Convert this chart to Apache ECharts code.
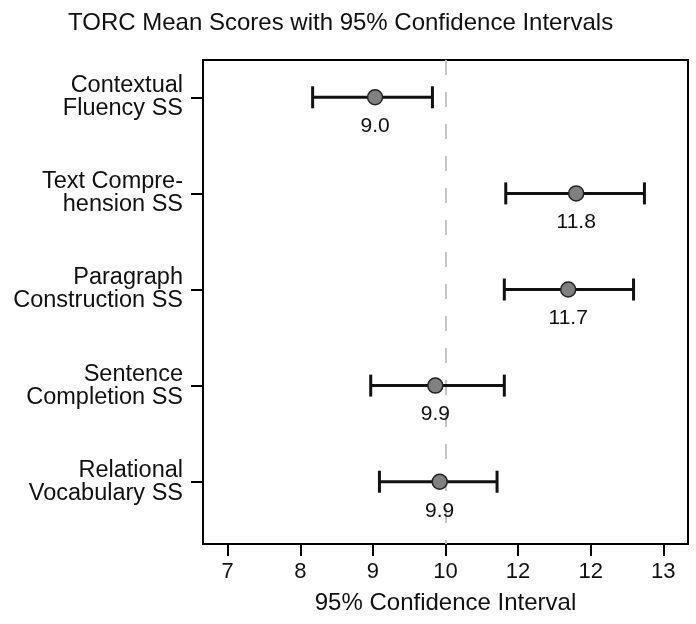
<!DOCTYPE html>
<html>
<head>
<meta charset="utf-8">
<script src="https://cdn.jsdelivr.net/npm/echarts@6/dist/echarts.min.js"></script>
<style>
html,body{margin:0;padding:0;background:#fff;}
#chart{width:696px;height:624px;}
</style>
</head>
<body>
<div id="chart"></div>
<script>
const titleText = "TORC Mean Scores with 95% Confidence Intervals";
const xAxisName = "95% Confidence Interval";
const categories = [
  "Contextual\nFluency SS",
  "Text Compre-\nhension SS",
  "Paragraph\nConstruction SS",
  "Sentence\nCompletion SS",
  "Relational\nVocabulary SS"
];
const means = [9.03, 11.80, 11.69, 9.86, 9.92];
const lower = [8.17, 10.83, 10.81, 8.97, 9.09];
const upper = [9.82, 12.74, 12.59, 10.81, 10.71];
const xTickValues = [7, 8, 9, 10, 11, 12, 13];
const xTickLabels = ["7", "8", "9", "10", "12", "12", "13"];
const refValue = 10;

const FONT = '"Liberation Sans", Arial, Helvetica, sans-serif';
const rowValues = categories.map((c, i) => i + 1);
const data = categories.map((c, i) => [i + 1, lower[i], means[i], upper[i]]);

const chart = echarts.init(document.getElementById('chart'), null, {renderer: 'canvas'});
chart.setOption({
  backgroundColor: '#fff',
  animation: false,
  title: {
    text: titleText,
    left: 63, top: 6,
    textStyle: {fontFamily: FONT, fontSize: 24, fontWeight: 'normal', color: '#111'}
  },
  grid: {
    left: 203, right: 8, top: 60, bottom: 80,
    show: true, borderColor: '#000', borderWidth: 2, backgroundColor: 'transparent'
  },
  xAxis: {
    type: 'value', min: 6.66, max: 13.34,
    name: xAxisName, nameLocation: 'middle', nameGap: 47,
    nameTextStyle: {fontFamily: FONT, fontSize: 24, color: '#111'},
    axisLine: {show: true, lineStyle: {color: '#000', width: 2}},
    axisTick: {show: true, customValues: xTickValues, length: 12, lineStyle: {color: '#000', width: 2}},
    axisLabel: {
      customValues: xTickValues, margin: 17,
      fontFamily: FONT, fontSize: 22, color: '#111',
      formatter: v => { const i = xTickValues.indexOf(Math.round(v)); return i >= 0 ? xTickLabels[i] : ''; }
    },
    splitLine: {show: false}
  },
  yAxis: {
    type: 'value', inverse: true, min: 0.612, max: 5.648,
    axisLine: {show: true, lineStyle: {color: '#000', width: 2}},
    axisTick: {show: true, customValues: rowValues, length: 12, lineStyle: {color: '#000', width: 2}},
    axisLabel: {
      customValues: rowValues, margin: 20,
      fontFamily: FONT, fontSize: 23.5, lineHeight: 23, color: '#111', align: 'right',
      formatter: v => categories[Math.round(v) - 1] || ''
    },
    splitLine: {show: false}
  },
  series: [{
    type: 'line',
    data: [],
    z: 1,
    markLine: {
      silent: true, symbol: 'none', label: {show: false}, z: 1,
      lineStyle: {type: [15, 17], color: '#c4c4c4', width: 2},
      data: [{xAxis: refValue}]
    }
  }, {
    type: 'custom',
    data: data,
    encode: {x: [1, 2, 3], y: 0},
    z: 5,
    renderItem: function (params, api) {
      const y = api.value(0);
      const lo = api.coord([api.value(1), y]);
      const mid = api.coord([api.value(2), y]);
      const hi = api.coord([api.value(3), y]);
      const cap = 11;
      const ls = {stroke: '#111', lineWidth: 3};
      return {
        type: 'group',
        children: [
          {type: 'line', shape: {x1: lo[0], y1: lo[1], x2: hi[0], y2: hi[1]}, style: ls},
          {type: 'line', shape: {x1: lo[0], y1: lo[1] - cap, x2: lo[0], y2: lo[1] + cap}, style: ls},
          {type: 'line', shape: {x1: hi[0], y1: hi[1] - cap, x2: hi[0], y2: hi[1] + cap}, style: ls},
          {type: 'circle', shape: {cx: mid[0], cy: mid[1], r: 7.5}, style: {fill: '#808080', stroke: '#222', lineWidth: 1.5}},
          {type: 'text', x: mid[0], y: mid[1] + 29, style: {
            text: api.value(2).toFixed(1), align: 'center', verticalAlign: 'middle',
            fontFamily: FONT, fontSize: 21, fill: '#111'
          }}
        ]
      };
    }
  }]
});
</script>
</body>
</html>
